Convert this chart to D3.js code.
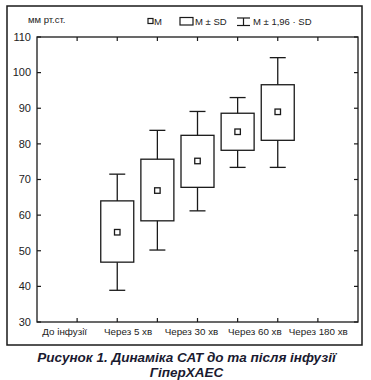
<!DOCTYPE html>
<html><head><meta charset="utf-8">
<script src="https://cdn.jsdelivr.net/npm/d3@7"></script>
<style>
html,body{margin:0;padding:0;background:#fff;}
svg{display:block;}
</style></head>
<body>
<script>
const categories = ["До інфузії", "Через 5 хв", "Через 30 хв", "Через 60 хв", "Через 180 хв"];
const meanValues = [55.2, 66.9, 75.2, 83.4, 89.0];
const sdLow = [46.8, 58.4, 67.8, 78.2, 81.0];
const sdHigh = [64.0, 75.7, 82.4, 88.6, 96.6];
const ciLow = [38.9, 50.2, 61.2, 73.4, 73.4];
const ciHigh = [71.5, 83.8, 89.1, 93.0, 104.2];
const yTickValues = [30, 40, 50, 60, 70, 80, 90, 100, 110];
const yUnit = "мм рт.ст.";
const legendLabels = ["M", "M ± SD", "M ± 1,96 · SD"];
const captionLines = ["Рисунок 1. Динаміка САТ до та після інфузії", "ГіперХАЕС"];

const W = 371, H = 380;
const ink = "#1a1a1a";
const svg = d3.select("body").append("svg").attr("width", W).attr("height", H);

const plot = {left: 37, right: 358, top: 37, bottom: 322};
const y = d3.scaleLinear().domain([30, 110]).range([plot.bottom, plot.top]);
// slot scale: 8 equal slots across the plot, boxes occupy slots 2..6
const slot = d3.scaleLinear().domain([0, 8]).range([plot.left, plot.right]);
const labelX = d3.scaleBand().domain(categories).range([33, 350]);

// outer frame
svg.append("rect").attr("x", 7).attr("y", 6).attr("width", 355).attr("height", 339)
  .attr("fill", "none").attr("stroke", ink).attr("stroke-width", 1.5);

// plot frame
svg.append("rect").attr("x", plot.left).attr("y", plot.top)
  .attr("width", plot.right - plot.left).attr("height", plot.bottom - plot.top)
  .attr("fill", "none").attr("stroke", ink).attr("stroke-width", 1.3);

// y ticks (inward both sides) + labels
const tickLen = 4;
const yt = svg.append("g");
yTickValues.forEach(v => {
  yt.append("line").attr("x1", plot.left).attr("x2", plot.left + tickLen)
    .attr("y1", y(v)).attr("y2", y(v)).attr("stroke", ink).attr("stroke-width", 1.2);
  yt.append("line").attr("x1", plot.right - tickLen).attr("x2", plot.right)
    .attr("y1", y(v)).attr("y2", y(v)).attr("stroke", ink).attr("stroke-width", 1.2);
  yt.append("text").attr("x", 31).attr("y", y(v)).attr("dy", "0.35em")
    .attr("text-anchor", "end").attr("font-family", "Liberation Sans, Arial, sans-serif")
    .attr("font-size", 11).attr("fill", "#222").text(v);
});

// x ticks at slots 1..7 (top and bottom, inward)
const xTickSlots = d3.range(1, 8);
xTickSlots.forEach(s => {
  const xx = slot(s);
  yt.append("line").attr("x1", xx).attr("x2", xx).attr("y1", plot.top).attr("y2", plot.top + tickLen)
    .attr("stroke", ink).attr("stroke-width", 1.2);
  yt.append("line").attr("x1", xx).attr("x2", xx).attr("y1", plot.bottom - tickLen).attr("y2", plot.bottom)
    .attr("stroke", ink).attr("stroke-width", 1.2);
});

// x labels
categories.forEach(c => {
  svg.append("text").attr("x", labelX(c) + labelX.bandwidth() / 2).attr("y", 335)
    .attr("text-anchor", "middle").attr("font-family", "Liberation Sans, Arial, sans-serif")
    .attr("font-size", 9.8).attr("fill", "#222").text(c);
});

// boxes
const boxW = 33, capW = 16, sq = 5.5;
const g = svg.append("g").attr("stroke", ink).attr("stroke-width", 1.3).attr("fill", "none");
categories.forEach((c, i) => {
  const cx = slot(i + 2);
  g.append("line").attr("x1", cx).attr("x2", cx).attr("y1", y(ciHigh[i])).attr("y2", y(sdHigh[i]));
  g.append("line").attr("x1", cx).attr("x2", cx).attr("y1", y(sdLow[i])).attr("y2", y(ciLow[i]));
  g.append("line").attr("x1", cx - capW / 2).attr("x2", cx + capW / 2).attr("y1", y(ciHigh[i])).attr("y2", y(ciHigh[i]));
  g.append("line").attr("x1", cx - capW / 2).attr("x2", cx + capW / 2).attr("y1", y(ciLow[i])).attr("y2", y(ciLow[i]));
  g.append("rect").attr("x", cx - boxW / 2).attr("y", y(sdHigh[i]))
    .attr("width", boxW).attr("height", y(sdLow[i]) - y(sdHigh[i]));
  g.append("rect").attr("x", cx - sq / 2).attr("y", y(meanValues[i]) - sq / 2)
    .attr("width", sq).attr("height", sq);
});

// unit label
svg.append("text").attr("x", 28).attr("y", 22.5).attr("font-family", "Liberation Sans, Arial, sans-serif")
  .attr("font-size", 9.5).attr("fill", "#222").text(yUnit);

// legend
const lg = svg.append("g").attr("stroke", ink).attr("stroke-width", 1.2).attr("fill", "none");
lg.append("rect").attr("x", 148).attr("y", 18.5).attr("width", 5).attr("height", 5);
lg.append("rect").attr("x", 180).attr("y", 17.5).attr("width", 13).attr("height", 7.5);
lg.append("line").attr("x1", 237).attr("x2", 250).attr("y1", 18).attr("y2", 18);
lg.append("line").attr("x1", 237).attr("x2", 250).attr("y1", 25.5).attr("y2", 25.5);
lg.append("line").attr("x1", 243.5).attr("x2", 243.5).attr("y1", 18).attr("y2", 25.5);
const legendX = [154, 195, 253];
legendLabels.forEach((t, i) => {
  svg.append("text").attr("x", legendX[i]).attr("y", 25).attr("font-family", "Liberation Sans, Arial, sans-serif")
    .attr("font-size", 9.5).attr("fill", "#222").text(t);
});

// caption
captionLines.forEach((t, i) => {
  svg.append("text").attr("x", 186.5).attr("y", 362 + i * 14.5).attr("text-anchor", "middle")
    .attr("font-family", "Liberation Sans, Arial, sans-serif").attr("font-weight", "bold")
    .attr("font-style", "italic").attr("font-size", 13.5).attr("fill", "#1a1a30").text(t);
});
</script>
</body></html>
